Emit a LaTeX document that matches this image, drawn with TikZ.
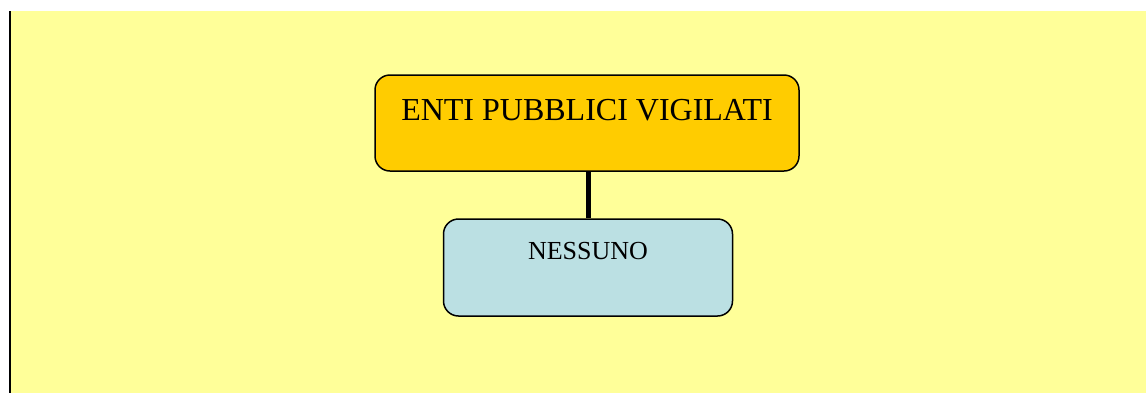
\documentclass[tikz,border=0pt]{standalone}
\usepackage{fontspec}
\setmainfont{Liberation Serif}
\usepackage{xcolor}
\usepackage{tikz}

\definecolor{sfondo}{HTML}{FFFF99}
\definecolor{oro}{HTML}{FFCC00}
\definecolor{azzurro}{HTML}{BBE0E3}

\begin{document}
\begin{tikzpicture}[x=0.5pt, y=-0.5pt,
    casella/.style={draw=black, line width=0.75pt, rounded corners=7.5pt, inner sep=0pt, align=center},
    every node/.style={text=black}]
            \useasboundingbox (0,0) rectangle (1146,393);
            \fill[sfondo] (10,11) rectangle (1146,393);
            \draw[line width=0.6pt] (10,11) -- (10,393);
            \node[casella, fill=oro, minimum width=212pt, text height=22.5pt, text depth=25.5pt,
                  font=\fontsize{16}{19}\selectfont] (enti) at (587,123) {ENTI PUBBLICI VIGILATI};
            \node[casella, fill=azzurro, minimum width=144.5pt, text height=20pt, text depth=28.5pt,
                  font=\fontsize{13}{16}\selectfont] (nessuno) at (588,267.5) {NESSUNO};
            \draw[line width=2.5pt] (nessuno.north |- enti.south) -- (nessuno.north);
        \end{tikzpicture}
\end{document}
